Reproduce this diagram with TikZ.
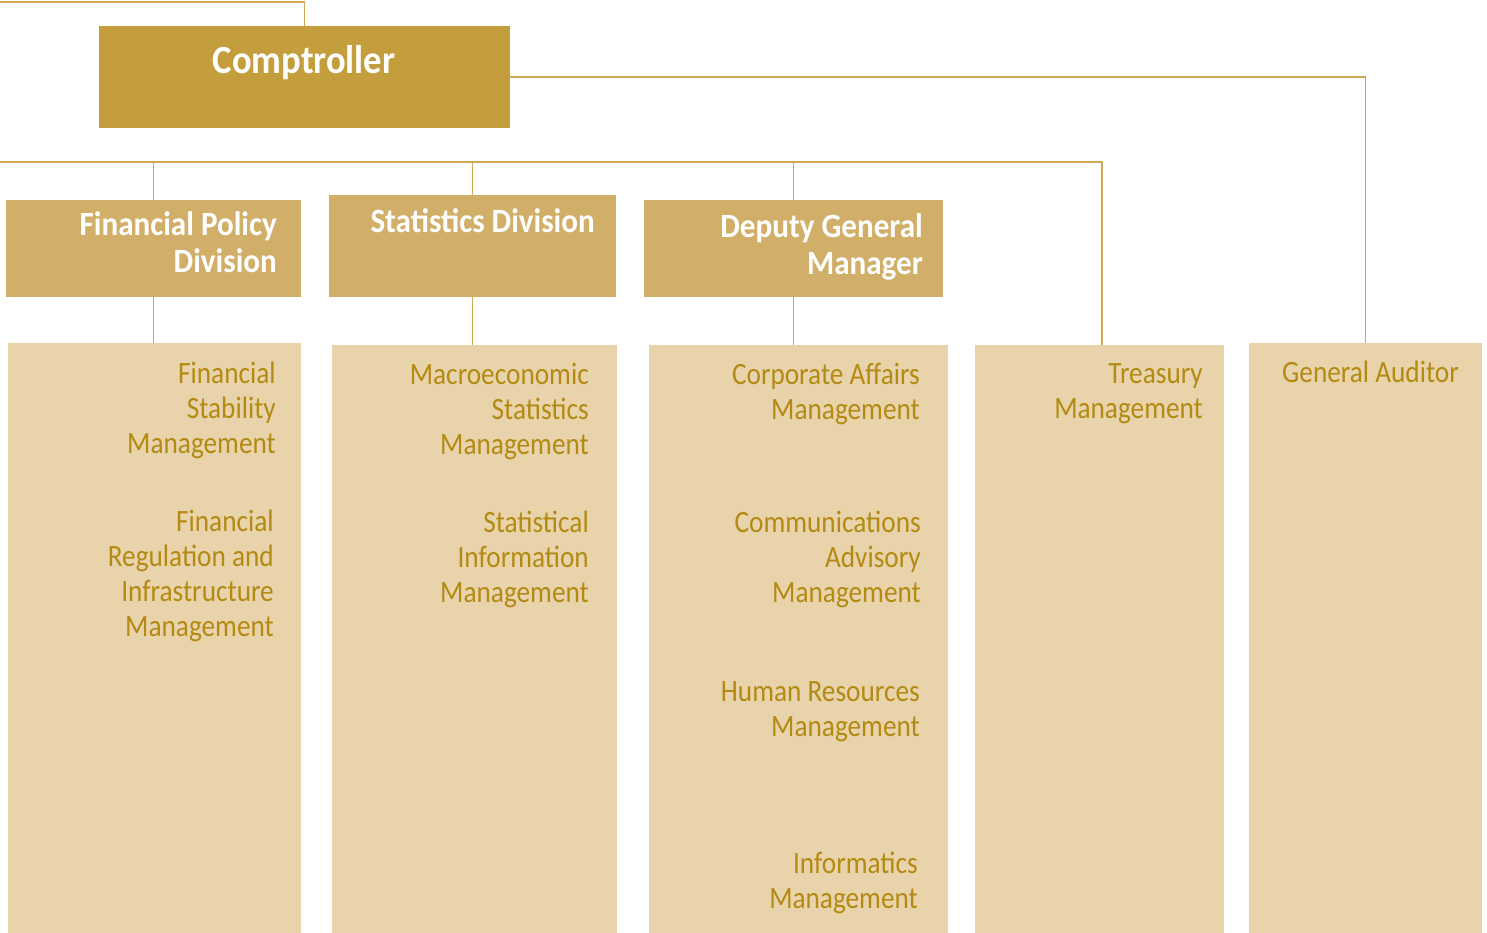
\documentclass[tikz,border=0pt]{standalone}
\usepackage{fontspec}
\setmainfont{Carlito}[FakeStretch=0.88, BoldFeatures={FakeStretch=0.915}]
\usepackage{tikz}
\usetikzlibrary{positioning}
\definecolor{GoldDark}{RGB}{196,158,60}
\definecolor{GoldMid}{RGB}{210,175,104}
\definecolor{GoldPale}{RGB}{232,211,171}
\definecolor{GoldText}{RGB}{179,138,18}
\definecolor{GoldLine}{RGB}{206,168,86}

\begin{document}
\begin{tikzpicture}[x=1pt, y=-1pt, box/.style={anchor=north west, inner sep=0pt, outer sep=0pt}, top/.style={box, fill=GoldDark}, dv/.style={box, fill=GoldMid}, col/.style={box, fill=GoldPale}, hd/.style={anchor=base east, inner sep=0pt, align=right, text=white, font=\bfseries\fontsize{34}{36}\selectfont}, tx/.style={anchor=base east, inner sep=0pt, align=right, text=GoldText, font=\fontsize{31}{35}\selectfont}, ln/.style={GoldLine, line width=1.8pt}]
\useasboundingbox (0,0) rectangle (1487,933);
% boxes
\node[top, minimum width=411pt, minimum height=102pt] (comp) at (99,26) {};
\node[dv, minimum width=295pt, minimum height=97pt] (fpd) at (6,200) {};
\node[dv, minimum width=287pt, minimum height=102pt] (std) at (329,195) {};
\node[dv, minimum width=299pt, minimum height=97pt] (dgd) at (644,200) {};
\node[col, minimum width=293pt, minimum height=590pt] (fpc) at (8,343) {};
\node[col, minimum width=285pt, minimum height=588pt] (stc) at (332,345) {};
\node[col, minimum width=299pt, minimum height=588pt] (dgc) at (649,345) {};
\node[col, minimum width=249pt, minimum height=588pt] (trc) at (975,345) {};
\node[col, minimum width=233pt, minimum height=590pt] (gac) at (1249,343) {};
% connectors
\coordinate (topin) at (0,2);
\coordinate (midin) at (0,162);
\coordinate (trtop) at ([xshift=2.5pt]trc.north);
\draw[ln] (topin) -| (comp.north);
\draw[ln] (comp.east) -| (gac.north);
\draw[ln] (midin) -| (trtop);
\draw[ln] (fpd.north) -- (fpd.north |- midin);
\draw[ln] (std.north) -- (std.north |- midin);
\draw[ln] (dgd.north) -- (dgd.north |- midin);
\draw[ln] (fpd.south) -- (fpd.south |- fpc.north);
\draw[ln] (std.south) -- (std.south |- stc.north);
\draw[ln] (dgd.south) -- (dgd.south |- dgc.north);
% headings (base = last line)
\node[hd, anchor=base, font=\bfseries\fontsize{40}{44}\selectfont] (comptxt) at (304,74) {Comptroller};
\node[hd] (fptxt) at (277,272) {Financial Policy\\Division};
\node[hd] (sttxt) at (595,233) {Statistics Division};
\node[hd] (dgtxt) at (923,274) {Deputy General\\Manager};
% units (base = last line)
\node[tx] (fsm) at (276,453) {Financial\\Stability\\Management};
\node[tx] (frim) at (274,636) {Financial\\Regulation and\\Infrastructure\\Management};
\node[tx] (msm) at (589,454) {Macroeconomic\\Statistics\\Management};
\node[tx] (sim) at (589,602) {Statistical\\Information\\Management};
\node[tx] (cam) at (920,419) {Corporate Affairs\\Management};
\node[tx] (cadm) at (921,602) {Communications\\Advisory\\Management};
\node[tx] (hrm) at (920,736) {Human Resources\\Management};
\node[tx] (infm) at (918,908) {Informatics\\Management};
\node[tx] (trm) at (1203,418) {Treasury\\Management};
\node[tx] (gatxt) at (1459,382) {General Auditor};
\end{tikzpicture}
\end{document}
